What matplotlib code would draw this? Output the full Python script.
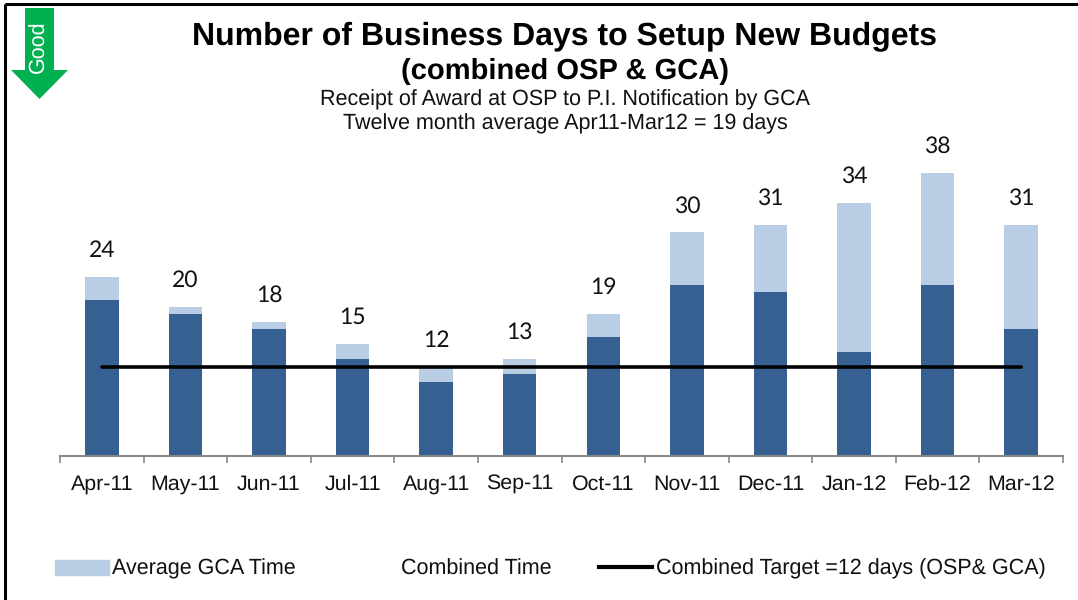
import matplotlib
matplotlib.use('Agg')
import matplotlib.pyplot as plt
from matplotlib.lines import Line2D
from matplotlib.patches import Patch, Polygon, Rectangle

plt.rcParams['font.family'] = ['Liberation Sans', 'DejaVu Sans']
plt.rcParams['text.hinting'] = 'no_hinting'

months = ['Apr-11', 'May-11', 'Jun-11', 'Jul-11', 'Aug-11', 'Sep-11',
          'Oct-11', 'Nov-11', 'Dec-11', 'Jan-12', 'Feb-12', 'Mar-12']
osp_time = [21, 19, 17, 13, 10, 11, 16, 23, 22, 14, 23, 17]
combined_time = [24, 20, 18, 15, 12, 13, 19, 30, 31, 34, 38, 31]
target = [12] * 12

W, H = 1078, 600
DARK = '#376092'
LIGHT = '#B9CDE5'

def fx(x):
    return x / W

def fy(y):
    # y in pixels from the top
    return 1 - y / H

fig = plt.figure(figsize=(W / 100, H / 100), dpi=100)
ax = fig.add_axes([fx(60), fy(456), fx(1063 - 60), (456 - 120) / H])

xs = list(range(len(months)))
gca_time = [c - o for c, o in zip(combined_time, osp_time)]
ax.bar(xs, osp_time, width=0.4, color=DARK)
ax.bar(xs, gca_time, width=0.4, bottom=osp_time, color=LIGHT)
ax.plot(xs, target, color='black', lw=2.6, solid_capstyle='round')

for x, c in zip(xs, combined_time):
    ax.annotate(str(c), (x, c), xytext=(0, 26.5 * 0.72), textcoords='offset points',
                ha='center', va='center', fontsize=16.5, family='Lato', color='#111111')

ax.set_xlim(-0.5, 11.5)
ax.set_ylim(0, 336 / 7.45)
ax.set_yticks([])
ax.set_xticks([i - 0.5 for i in range(13)])
ax.set_xticklabels([])
ax.set_xticks(xs, minor=True)
ax.set_xticklabels(months, minor=True, fontsize=15.4, color='#111111')
ax.tick_params(axis='x', which='major', length=5, width=1.2, color='#868686')
ax.tick_params(axis='x', which='minor', length=0, pad=13.5)
for s in ['top', 'left', 'right']:
    ax.spines[s].set_visible(False)
ax.spines['bottom'].set_color('#868686')
ax.spines['bottom'].set_linewidth(1.4)

# titles
fig.text(fx(565), fy(36), 'Number of Business Days to Setup New Budgets', ha='center', va='center',
         fontsize=23, fontweight='bold')
fig.text(fx(565), fy(71), '(combined OSP & GCA)', ha='center', va='center',
         fontsize=21, fontweight='bold')
fig.text(fx(565), fy(100), 'Receipt of Award at OSP to P.I. Notification by GCA', ha='center', va='center',
         fontsize=15.5, color='#111111')
fig.text(fx(565), fy(124), 'Twelve month average Apr11-Mar12 = 19 days', ha='center', va='center',
         fontsize=15.5, color='#111111')

# "Good" arrow
arrow = [(25, 8), (54, 8), (54, 70), (68, 70), (39.5, 99), (11, 70), (25, 70)]
fig.add_artist(Polygon([(fx(a), fy(b)) for a, b in arrow], closed=True, color='#00B050',
                       lw=0, transform=fig.transFigure))
fig.text(fx(39.5), fy(47), 'Good', rotation=90, ha='center', va='center', fontsize=15.5, color='white')

# frame, only top and left show
fig.add_artist(Rectangle((fx(5), fy(4)), fx(1200), -fy(4) * 1.2, fill=False, ec='black', lw=2.2,
                         transform=fig.transFigure))

handles = [Patch(color=LIGHT), Patch(color='white'),
           Line2D([0], [0], color='black', lw=3)]
labels = ['Average GCA Time', 'Combined Time', 'Combined Target =12 days (OSP& GCA)']
fig.legend(handles, labels, ncol=3, frameon=False, loc='center left', bbox_to_anchor=(fx(36), fy(569)),
           fontsize=15.5, handlelength=2.5, handletextpad=0.15, columnspacing=2.2, labelcolor='#111111')

fig.savefig('out.png', dpi=100)
